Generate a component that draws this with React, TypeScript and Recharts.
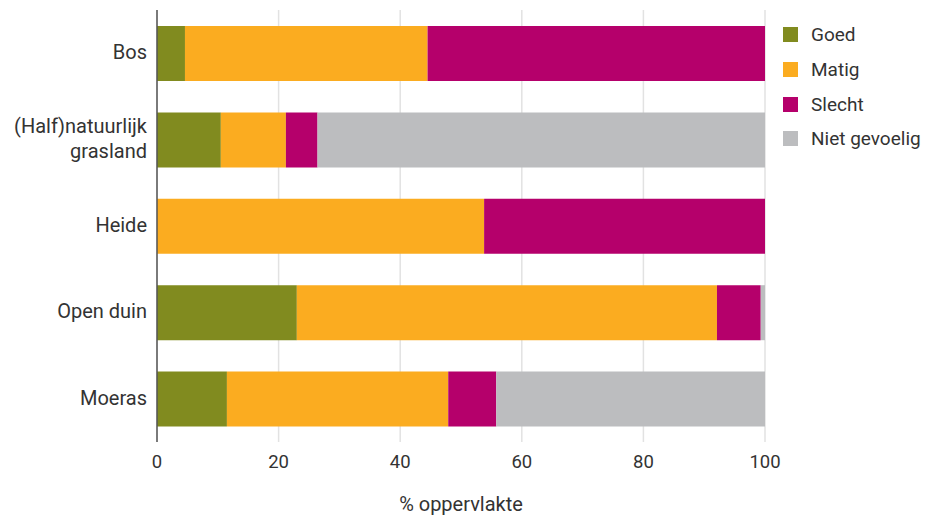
import React from "react";
import { BarChart, Bar, XAxis, YAxis, CartesianGrid } from "recharts";

// categories (top to bottom) and stacked shares in % of area
const categories = ["Bos", "(Half)natuurlijk grasland", "Heide", "Open duin", "Moeras"];
const tickLines = [["Bos"], ["(Half)natuurlijk", "grasland"], ["Heide"], ["Open duin"], ["Moeras"]];

const goed = [4.6, 10.5, 0, 23.0, 11.5];
const matig = [39.9, 10.7, 53.8, 69.1, 36.4];
const slecht = [55.5, 5.2, 46.2, 7.2, 7.9];
const nietGevoelig = [0, 73.6, 0, 0.7, 44.2];

const xTicks = [0, 20, 40, 60, 80, 100];

const series = [
  { key: "goed", name: "Goed", color: "#818b1f" },
  { key: "matig", name: "Matig", color: "#fbac20" },
  { key: "slecht", name: "Slecht", color: "#b5006b" },
  { key: "nietGevoelig", name: "Niet gevoelig", color: "#bcbdbf" },
];

const data = categories.map((c, i) => ({
  name: c,
  goed: goed[i],
  matig: matig[i],
  slecht: slecht[i],
  nietGevoelig: nietGevoelig[i],
}));

const FONT = "Roboto, 'Open Sans', sans-serif";
const TEXT = "#333333";

function CategoryTick(props: any) {
  const { x, y, payload } = props;
  const idx = categories.indexOf(payload.value);
  const lines = idx >= 0 ? tickLines[idx] : [payload.value];
  const first = lines.length === 1 ? 6 : -6.5;
  return (
    <text x={x} y={y} textAnchor="end" fill={TEXT} fontSize={20} fontFamily={FONT}>
      {lines.map((l: string, i: number) => (
        <tspan key={i} x={x} dy={i === 0 ? first : 25}>
          {l}
        </tspan>
      ))}
    </text>
  );
}

export default function App() {
  return (
    <div style={{ position: "absolute", left: 0, top: 0, width: 947, height: 515, background: "#fff", fontFamily: FONT }}>
      <BarChart
        width={947}
        height={515}
        data={data}
        layout="vertical"
        margin={{ top: 10, right: 182, bottom: 0, left: 0 }}
      >
        <CartesianGrid horizontal={false} stroke="#e2e2e2" strokeWidth={1.5} />
        <XAxis
          type="number"
          domain={[0, 100]}
          ticks={xTicks}
          axisLine={false}
          tickLine={false}
          tickSize={0}
          tickMargin={13}
          height={73}
          tick={{ fill: TEXT, fontSize: 18.5, fontFamily: FONT }}
          label={{ value: "% oppervlakte", position: "insideBottom", offset: 4, fill: TEXT, fontSize: 20, fontFamily: FONT }}
        />
        <YAxis
          type="category"
          dataKey="name"
          width={157}
          axisLine={{ stroke: "#555555", strokeWidth: 1.5 }}
          tickLine={false}
          tickSize={0}
          tickMargin={10}
          tick={<CategoryTick />}
          interval={0}
        />
        {series.map((s) => (
          <Bar key={s.key} dataKey={s.key} name={s.name} stackId="a" fill={s.color} barSize={55} isAnimationActive={false} />
        ))}
      </BarChart>
      <div style={{ position: "absolute", left: 783, top: 27 }}>
        {series.map((s, i) => (
          <div key={s.key} style={{ position: "absolute", left: 0, top: i * 34.8, display: "flex", alignItems: "center", whiteSpace: "nowrap" }}>
            <div style={{ width: 15, height: 15, background: s.color }} />
            <span style={{ marginLeft: 13, fontSize: 19, color: TEXT, lineHeight: "15px" }}>{s.name}</span>
          </div>
        ))}
      </div>
    </div>
  );
}
